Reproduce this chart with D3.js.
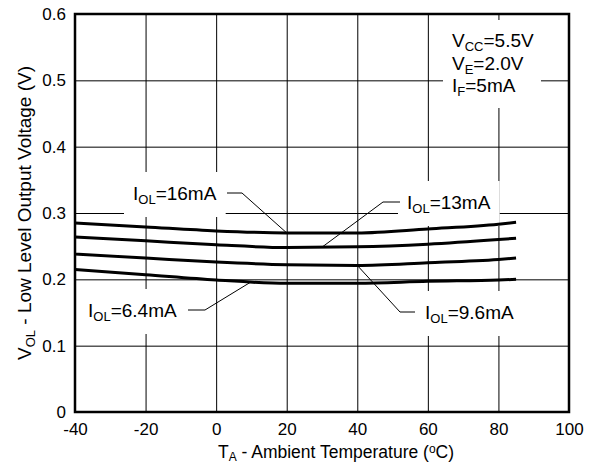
<!DOCTYPE html>
<html>
<head>
<meta charset="utf-8">
<script src="https://d3js.org/d3.v7.min.js"></script>
<style>
    body {
        margin: 0;
        background-color: #fff;
    }
    svg text {
        font-family: 'Liberation Sans', Arial, sans-serif;
        fill: #000;
    }
</style>
</head>
<body>
<svg width="590" height="465"></svg>
<script>
    // temperatures (deg C) the curves were read at
    var temps = [-40, -20, 0, 20, 40, 60, 80, 85];
    // V_OL (V) for each output current
    var vol16 = [0.285, 0.279, 0.273, 0.270, 0.270, 0.276, 0.283, 0.286];
    var vol13 = [0.264, 0.258, 0.252, 0.248, 0.249, 0.253, 0.260, 0.262];
    var vol96 = [0.238, 0.232, 0.226, 0.222, 0.221, 0.225, 0.230, 0.232];
    var vol64 = [0.215, 0.207, 0.199, 0.194, 0.194, 0.197, 0.199, 0.200];
    var seriesNames = ["16mA", "13mA", "9.6mA", "6.4mA"];
    var xTicks = [-40, -20, 0, 20, 40, 60, 80, 100];
    var yTicks = [0, 0.1, 0.2, 0.3, 0.4, 0.5, 0.6];
    var conditions = [["V", "CC", "=5.5V"], ["V", "E", "=2.0V"], ["I", "F", "=5mA"]];

    var series = [vol16, vol13, vol96, vol64].map(function(v, i) {
        return { name: seriesNames[i], values: temps.map(function(t, j) { return { t: t, v: v[j] }; }) };
    });

    var svg = d3.select("svg"),
        margin = {top: 14, right: 21, bottom: 53, left: 75},
        width = +svg.attr("width") - margin.left - margin.right,
        height = +svg.attr("height") - margin.top - margin.bottom,
        g = svg.append("g").attr("transform", "translate(" + margin.left + "," + margin.top + ")");

    var x = d3.scaleLinear().domain([-40, 100]).range([0, width]);
    var y = d3.scaleLinear().domain([0, 0.6]).range([height, 0]);

    // grid
    g.append("g")
        .attr("transform", "translate(0," + height + ")")
        .call(d3.axisBottom(x).tickValues(xTicks).tickSize(-height).tickFormat(""))
        .call(function(s) { s.select(".domain").remove(); })
        .selectAll("line").attr("stroke", "#000");
    g.append("g")
        .call(d3.axisLeft(y).tickValues(yTicks).tickSize(-width).tickFormat(""))
        .call(function(s) { s.select(".domain").remove(); })
        .selectAll("line").attr("stroke", "#000");

    // tick labels
    g.append("g")
        .attr("transform", "translate(0," + height + ")")
        .call(d3.axisBottom(x).tickValues(xTicks).tickSize(0).tickPadding(11)
            .tickFormat(function(d) { return String(d); }))
        .call(function(s) { s.select(".domain").remove(); })
        .selectAll("text").style("font-size", "17px");
    g.append("g")
        .call(d3.axisLeft(y).tickValues(yTicks).tickSize(0).tickPadding(9)
            .tickFormat(function(d) { return d === 0 ? "0" : d3.format(".1f")(d); }))
        .call(function(s) { s.select(".domain").remove(); })
        .selectAll("text").style("font-size", "17px");

    // value at a temperature, for the leader lines
    function valueAt(vals, t) {
        for (var i = 1; i < vals.length; i++) {
            if (t <= vals[i].t) {
                var a = vals[i - 1], b = vals[i];
                return a.v + (b.v - a.v) * (t - a.t) / (b.t - a.t);
            }
        }
        return vals[vals.length - 1].v;
    }

    // label layout: text pos, elbow, anchor temperature
    var labels = [
        {s: 0, tx: 58, ty: 186, e1: [152, 179], e2: [167, 179], at: 20},
        {s: 1, tx: 332, ty: 195, e1: [325, 188], e2: [308, 188], at: 30},
        {s: 2, tx: 350, ty: 305, e1: [340, 298], e2: [325, 298], at: 40},
        {s: 3, tx: 13, ty: 303, e1: [113, 296], e2: [130, 296], at: 10}
    ];

    var boxLayer = g.append("g");
    var lab = g.append("g").selectAll("g").data(labels).enter().append("g");

    var txt = lab.append("text")
        .attr("x", function(d) { return d.tx; })
        .attr("y", function(d) { return d.ty; })
        .style("font-size", "19px");
    txt.append("tspan").text("I");
    txt.append("tspan").attr("dy", 4).style("font-size", "13px").text("OL");
    txt.append("tspan").attr("dy", -4).text(function(d) { return "=" + series[d.s].name; });

    txt.each(function(d) {
        var b = this.getBBox();
        boxLayer.append("rect")
            .attr("x", b.x - 9).attr("y", d.ty - 28)
            .attr("width", b.width + 18).attr("height", 45)
            .attr("fill", "#fff");
    });

    lab.append("path")
        .attr("fill", "none")
        .attr("stroke", "#000")
        .attr("stroke-width", 1)
        .attr("d", function(d) {
            var vals = series[d.s].values;
            return "M" + d.e1 + "L" + d.e2 + "L" + x(d.at) + "," + y(valueAt(vals, d.at));
        });

    // conditions block
    var condBox = g.append("rect").attr("fill", "#fff");
    var cond = g.append("g");
    conditions.forEach(function(c, i) {
        var t = cond.append("text")
            .attr("x", 377)
            .attr("y", 33 + i * 22.5)
            .style("font-size", "19px");
        t.append("tspan").text(c[0]);
        t.append("tspan").attr("dy", 4).style("font-size", "13px").text(c[1]);
        t.append("tspan").attr("dy", -4).text(c[2]);
    });
    var cb = cond.node().getBBox();
    condBox.attr("x", cb.x - 9).attr("y", 6).attr("width", cb.width + 16).attr("height", 88);

    // curves
    var line = d3.line()
        .x(function(d) { return x(d.t); })
        .y(function(d) { return y(d.v); })
        .curve(d3.curveMonotoneX);
    g.append("g").selectAll("path").data(series).enter().append("path")
        .attr("fill", "none")
        .attr("stroke", "#000")
        .attr("stroke-width", 3)
        .attr("d", function(d) { return line(d.values); });

    // frame
    g.append("rect")
        .attr("width", width).attr("height", height)
        .attr("fill", "none").attr("stroke", "#000").attr("stroke-width", 2.5);

    // axis titles
    var xt = svg.append("text")
        .attr("x", 336)
        .attr("y", 458)
        .attr("text-anchor", "middle")
        .style("font-size", "17.5px");
    xt.append("tspan").text("T");
    xt.append("tspan").attr("dy", 3).style("font-size", "12px").text("A");
    xt.append("tspan").attr("dy", -3).text(" - Ambient Temperature (");
    xt.append("tspan").attr("dy", -5).style("font-size", "12px").text("o");
    xt.append("tspan").attr("dy", 5).text("C)");

    var yt = svg.append("text")
        .attr("transform", "translate(31," + (margin.top + height / 2) + ") rotate(-90)")
        .attr("text-anchor", "middle")
        .style("font-size", "19px");
    yt.append("tspan").text("V");
    yt.append("tspan").attr("dy", 4).style("font-size", "13px").text("OL");
    yt.append("tspan").attr("dy", -4).text(" - Low Level Output Voltage (V)");
</script>
</body>
</html>
